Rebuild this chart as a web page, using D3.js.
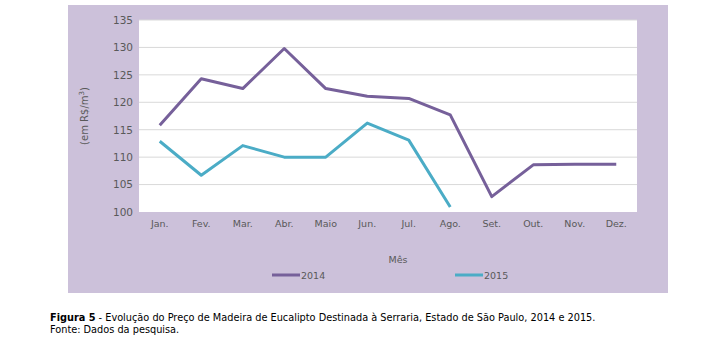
<!DOCTYPE html>
<html>
<head>
<meta charset="utf-8">
<script src="https://cdn.jsdelivr.net/npm/d3@7"></script>
<style>
  body { margin: 0; background: #fff; }
  text { font-family: "DejaVu Sans", sans-serif; }
</style>
</head>
<body>
<svg id="chart" width="718" height="358"></svg>
<script>
const months = ["Jan.", "Fev.", "Mar.", "Abr.", "Maio", "Jun.", "Jul.", "Ago.", "Set.", "Out.", "Nov.", "Dez."];
const values2014 = [115.8, 124.3, 122.5, 129.8, 122.5, 121.1, 120.7, 117.7, 102.8, 108.6, 108.7, 108.7];
const values2015 = [112.9, 106.7, 112.1, 110.0, 110.0, 116.2, 113.1, 100.9];
const yTicks = [100, 105, 110, 115, 120, 125, 130, 135];

const svg = d3.select("#chart");
const plot = { left: 139, right: 637, top: 20, bottom: 212 };

// purple panel behind everything
svg.append("rect")
  .attr("x", 68).attr("y", 5)
  .attr("width", 600).attr("height", 288)
  .attr("fill", "#ccc1da");

svg.append("rect")
  .attr("x", plot.left).attr("y", plot.top)
  .attr("width", plot.right - plot.left).attr("height", plot.bottom - plot.top)
  .attr("fill", "#fff");

const x = d3.scaleBand().domain(months).range([plot.left, plot.right]);
const y = d3.scaleLinear().domain([100, 135]).range([plot.bottom, plot.top]);

// grid
svg.append("g")
  .selectAll("line")
  .data(yTicks.filter(d => d > 100))
  .join("line")
  .attr("x1", plot.left).attr("x2", plot.right)
  .attr("y1", d => y(d)).attr("y2", d => y(d))
  .attr("stroke", "#d9d9d9").attr("stroke-width", 1);

const yAxis = svg.append("g")
  .attr("transform", `translate(${plot.left - 6},0)`)
  .call(d3.axisLeft(y).tickValues(yTicks).tickSize(0).tickPadding(0));
yAxis.select(".domain").remove();
yAxis.selectAll("text")
  .attr("fill", "#595959").style("font-size", "10.5px")
  .style("font-family", "'DejaVu Sans', sans-serif");

const xAxis = svg.append("g")
  .attr("transform", `translate(0,${plot.bottom + 8})`)
  .call(d3.axisBottom(x).tickSize(0).tickPadding(0));
xAxis.select(".domain").remove();
xAxis.selectAll("text")
  .attr("fill", "#595959").style("font-size", "9.5px")
  .style("font-family", "'DejaVu Sans', sans-serif");

const line = d3.line()
  .x((d, i) => x(months[i]) + x.bandwidth() / 2)
  .y(d => y(d));

svg.append("path")
  .datum(values2014)
  .attr("fill", "none")
  .attr("stroke", "#76609a")
  .attr("stroke-width", 3)
  .attr("stroke-linejoin", "round")
  .attr("d", line);

svg.append("path")
  .datum(values2015)
  .attr("fill", "none")
  .attr("stroke", "#4bacc6")
  .attr("stroke-width", 3)
  .attr("stroke-linejoin", "round")
  .attr("d", line);

// axis titles
svg.append("text")
  .attr("transform", `translate(88,${(plot.top + plot.bottom) / 2}) rotate(-90)`)
  .attr("text-anchor", "middle")
  .attr("fill", "#595959")
  .style("font-size", "10px")
  .html('(em R$/m<tspan dy="-4" font-size="7px">3</tspan><tspan dy="4">)</tspan>');

svg.append("text")
  .attr("x", 398).attr("y", 263)
  .attr("text-anchor", "middle")
  .attr("fill", "#595959")
  .style("font-size", "9.5px")
  .text("Mês");

// legend
const legend = [
  { name: "2014", color: "#76609a", x: 272 },
  { name: "2015", color: "#4bacc6", x: 455 }
];
const lg = svg.append("g").selectAll("g").data(legend).join("g")
  .attr("transform", d => `translate(${d.x},275)`);
lg.append("line")
  .attr("x1", 0).attr("x2", 28)
  .attr("stroke", d => d.color).attr("stroke-width", 3);
lg.append("text")
  .attr("x", 29).attr("y", 4)
  .attr("fill", "#595959")
  .style("font-size", "9.5px")
  .text(d => d.name);

// caption
const cap = svg.append("text")
  .attr("x", 50).attr("y", 321)
  .attr("fill", "#000")
  .style("font-size", "9.75px");
cap.append("tspan").attr("font-weight", "bold").text("Figura 5");
cap.append("tspan").text(" - Evolução do Preço de Madeira de Eucalipto Destinada à Serraria, Estado de São Paulo, 2014 e 2015.");
svg.append("text")
  .attr("x", 50).attr("y", 333)
  .attr("fill", "#000")
  .style("font-size", "9.75px")
  .text("Fonte: Dados da pesquisa.");
</script>
</body>
</html>
